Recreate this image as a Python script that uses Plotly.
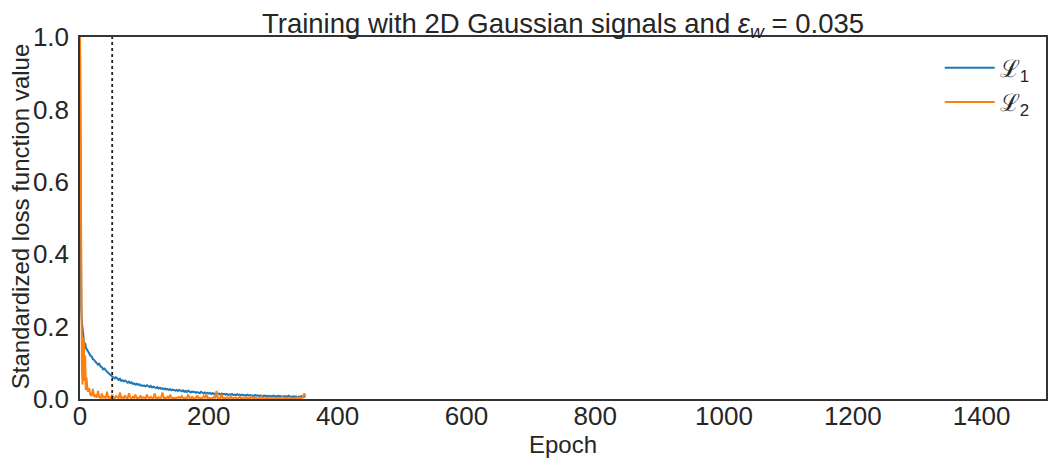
import plotly.graph_objects as go

epochs = list(range(0, 11)) + list(range(12, 351, 2))

loss_1 = [1.0, 0.33, 0.25, 0.21, 0.185, 0.17, 0.162, 0.15, 0.155, 0.142, 0.138,
          0.13, 0.127, 0.12, 0.118, 0.11, 0.108, 0.103, 0.1, 0.095, 0.097, 0.09, 0.088, 0.082, 0.084, 0.078, 0.075, 0.072, 0.068, 0.066, 0.062,
          0.06, 0.057, 0.06, 0.055, 0.053, 0.056, 0.05, 0.052, 0.049, 0.051, 0.047, 0.045, 0.048, 0.044, 0.046, 0.042, 0.043, 0.04, 0.042, 0.039, 0.041, 0.037, 0.038, 0.036, 0.037,
          0.035, 0.038, 0.034, 0.033, 0.036, 0.032, 0.034, 0.031, 0.03, 0.033, 0.029, 0.031, 0.028, 0.03, 0.027, 0.029, 0.026, 0.028, 0.025, 0.027, 0.024, 0.026, 0.025, 0.023, 0.025,
          0.022, 0.025, 0.023, 0.021, 0.024, 0.02, 0.022, 0.019, 0.023, 0.02, 0.018, 0.021, 0.019, 0.02, 0.017, 0.019, 0.018, 0.016, 0.02, 0.017, 0.015, 0.018, 0.016, 0.017, 0.015,
          0.017, 0.014, 0.016, 0.015, 0.013, 0.016, 0.014, 0.015, 0.012, 0.015, 0.013, 0.014, 0.012, 0.014, 0.011, 0.013, 0.012, 0.014, 0.011, 0.012, 0.01, 0.013, 0.011, 0.012, 0.01,
          0.012, 0.01, 0.011, 0.009, 0.012, 0.01, 0.011, 0.009, 0.01, 0.008, 0.011, 0.009, 0.01, 0.008, 0.01, 0.009, 0.007, 0.01, 0.008, 0.009, 0.007, 0.009, 0.008, 0.007, 0.009,
          0.007, 0.008, 0.006, 0.009, 0.007, 0.008, 0.006, 0.007, 0.008, 0.006, 0.007, 0.009, 0.006, 0.007, 0.005, 0.008, 0.006, 0.007, 0.005, 0.007, 0.006, 0.008, 0.006, 0.007, 0.006]

loss_2 = [1.0, 0.6, 0.37, 0.08, 0.04, 0.17, 0.16, 0.05, 0.12, 0.025, 0.06,
          0.02, 0.03, 0.012, 0.008, 0.028, 0.006, 0.01, 0.004, 0.022, 0.005, 0.003, 0.015, 0.004, 0.006, 0.002, 0.02, 0.003, 0.005, 0.002, 0.012,
          0.003, 0.002, 0.008, 0.004, 0.002, 0.018, 0.003, 0.005, 0.002, 0.01, 0.003, 0.002, 0.016, 0.004, 0.002, 0.006, 0.003, 0.012, 0.002, 0.004, 0.003, 0.008, 0.002, 0.005, 0.003,
          0.002, 0.012, 0.004, 0.002, 0.006, 0.003, 0.002, 0.015, 0.003, 0.002, 0.005, 0.002, 0.004, 0.018, 0.002, 0.003, 0.002, 0.006, 0.002, 0.012, 0.003, 0.002, 0.004, 0.002, 0.003,
          0.002, 0.005, 0.002, 0.008, 0.003, 0.002, 0.004, 0.002, 0.012, 0.003, 0.002, 0.006, 0.002, 0.003, 0.002, 0.01, 0.002, 0.004, 0.002, 0.003, 0.007, 0.002, 0.015, 0.002, 0.004,
          0.002, 0.003, 0.002, 0.006, 0.002, 0.022, 0.002, 0.004, 0.002, 0.012, 0.002, 0.003, 0.002, 0.005, 0.002, 0.002, 0.008, 0.002, 0.003, 0.002, 0.004, 0.002, 0.002, 0.006, 0.002,
          0.003, 0.002, 0.002, 0.005, 0.002, 0.003, 0.002, 0.007, 0.002, 0.002, 0.004, 0.002, 0.002, 0.003, 0.002, 0.006, 0.002, 0.002, 0.003, 0.002, 0.002, 0.005, 0.002, 0.002, 0.003,
          0.002, 0.004, 0.002, 0.002, 0.003, 0.002, 0.006, 0.002, 0.002, 0.003, 0.002, 0.002, 0.004, 0.002, 0.002, 0.003, 0.002, 0.002, 0.005, 0.002, 0.003, 0.002, 0.004, 0.015, 0.008]

series_names = ["ℒ<sub>1</sub>", "ℒ<sub>2</sub>"]
series_colors = ["#1f77b4", "#ff7f0e"]
marker_epoch = 50

x_ticks = [0, 200, 400, 600, 800, 1000, 1200, 1400]
y_ticks = [0.0, 0.2, 0.4, 0.6, 0.8, 1.0]

fig = go.Figure()
for ys, name, col in zip([loss_1, loss_2], series_names, series_colors):
    fig.add_trace(go.Scatter(x=epochs, y=ys, mode="lines", name=name,
                             line=dict(color=col, width=2)))

fig.add_trace(go.Scatter(x=[marker_epoch, marker_epoch], y=[0, 1], mode="lines",
                         line=dict(color="#222222", width=1.8, dash="dot"),
                         showlegend=False, hoverinfo="skip"))

axis_common = dict(showgrid=False, zeroline=False, showline=True, mirror=True,
                   linecolor="#333333", linewidth=1.5, ticks="", automargin=False,
                   tickfont=dict(size=26, color="#262626"))

fig.update_layout(
    width=1040, height=451,
    margin=dict(l=72, r=2, t=29, b=60),
    paper_bgcolor="white", plot_bgcolor="white",
    font=dict(family="Liberation Sans, Arial, sans-serif", color="#262626"),
    title=dict(text="Training with 2D Gaussian signals and <i>ε<sub>w</sub></i> = 0.035",
               x=0.5, xref="paper", xanchor="center", y=0.967, yanchor="middle",
               font=dict(size=27.5, color="#262626")),
    xaxis=dict(range=[0, 1500], tickvals=x_ticks, ticklabelstandoff=-7,
               title=dict(text="Epoch", font=dict(size=24), standoff=2),
               **axis_common),
    yaxis=dict(range=[0, 1], tickvals=y_ticks, tickformat=".1f", ticklabelstandoff=4,
               **axis_common),
    legend=dict(x=0.89, y=0.976, xanchor="left", yanchor="top", bgcolor="rgba(0,0,0,0)",
                font=dict(size=24, color="#262626"), tracegroupgap=4, itemwidth=50),
    showlegend=True,
    annotations=[dict(text="Standardized loss function value", xref="paper", yref="paper",
                      x=-0.062, y=0.505, xanchor="center", yanchor="middle", textangle=-90,
                      showarrow=False, font=dict(size=24, color="#262626"))],
)

fig.write_html("out.html")
